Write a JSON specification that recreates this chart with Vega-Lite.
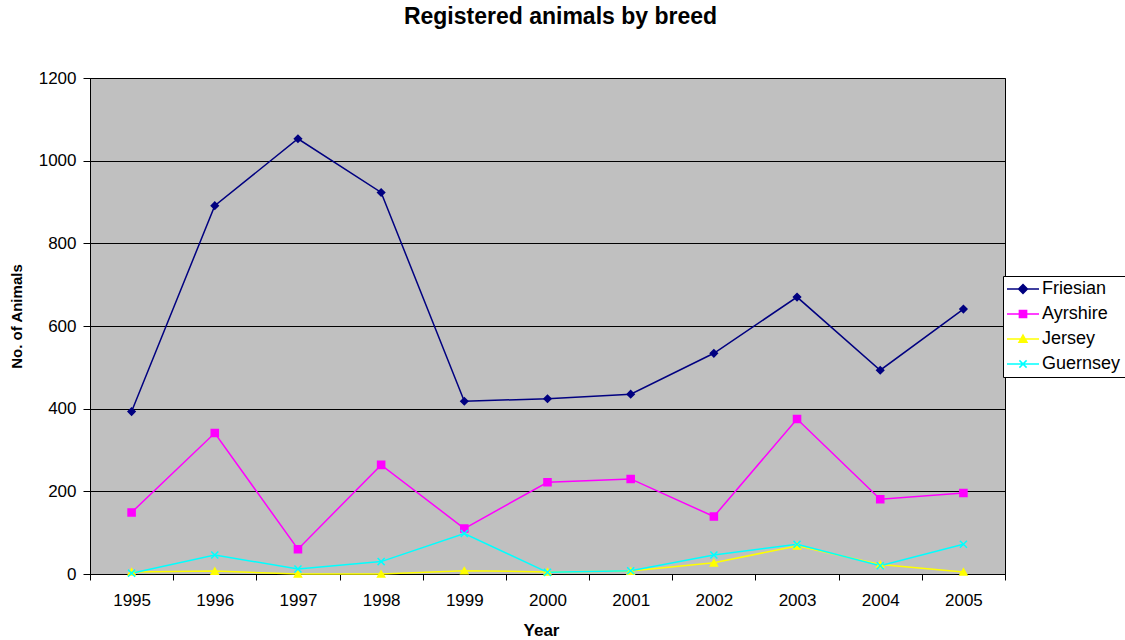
{
  "$schema": "https://vega.github.io/schema/vega-lite/v6.json",
  "width": 915,
  "height": 496,
  "autosize": {"type": "none"},
  "padding": {"left": 90, "top": 78, "right": 120, "bottom": 66},
  "background": "white",
  "title": {"text": "Registered animals by breed", "fontSize": 23, "font": "Liberation Sans", "fontWeight": "bold", "color": "black", "offset": 40, "dx": 13},
  "config": {
    "font": "Liberation Sans",
    "view": {"fill": "#C0C0C0", "stroke": "black", "strokeWidth": 1},
    "legend": {
      "title": null, "orient": "none", "legendX": 913, "legendY": 198,
      "labelFontSize": 18, "labelColor": "black", "fillColor": "white", "strokeColor": "black",
      "padding": 4, "rowPadding": 7, "symbolSize": 64, "symbolStrokeWidth": 1.5, "symbolOpacity": 1,
      "symbolOffset": 7, "labelOffset": 10
    }
  },
  "data": {"values": [
    {"year": "1995", "breed": "Friesian", "count": 393},
    {"year": "1996", "breed": "Friesian", "count": 891},
    {"year": "1997", "breed": "Friesian", "count": 1053},
    {"year": "1998", "breed": "Friesian", "count": 923},
    {"year": "1999", "breed": "Friesian", "count": 418},
    {"year": "2000", "breed": "Friesian", "count": 424},
    {"year": "2001", "breed": "Friesian", "count": 435},
    {"year": "2002", "breed": "Friesian", "count": 534},
    {"year": "2003", "breed": "Friesian", "count": 670},
    {"year": "2004", "breed": "Friesian", "count": 493},
    {"year": "2005", "breed": "Friesian", "count": 641},
    {"year": "1995", "breed": "Ayrshire", "count": 149},
    {"year": "1996", "breed": "Ayrshire", "count": 341},
    {"year": "1997", "breed": "Ayrshire", "count": 60},
    {"year": "1998", "breed": "Ayrshire", "count": 264},
    {"year": "1999", "breed": "Ayrshire", "count": 110},
    {"year": "2000", "breed": "Ayrshire", "count": 222},
    {"year": "2001", "breed": "Ayrshire", "count": 230},
    {"year": "2002", "breed": "Ayrshire", "count": 139},
    {"year": "2003", "breed": "Ayrshire", "count": 375},
    {"year": "2004", "breed": "Ayrshire", "count": 181},
    {"year": "2005", "breed": "Ayrshire", "count": 196},
    {"year": "1995", "breed": "Jersey", "count": 5},
    {"year": "1996", "breed": "Jersey", "count": 7},
    {"year": "1997", "breed": "Jersey", "count": 0},
    {"year": "1998", "breed": "Jersey", "count": 0},
    {"year": "1999", "breed": "Jersey", "count": 8},
    {"year": "2000", "breed": "Jersey", "count": 5},
    {"year": "2001", "breed": "Jersey", "count": 7},
    {"year": "2002", "breed": "Jersey", "count": 27},
    {"year": "2003", "breed": "Jersey", "count": 68},
    {"year": "2004", "breed": "Jersey", "count": 23},
    {"year": "2005", "breed": "Jersey", "count": 5},
    {"year": "1995", "breed": "Guernsey", "count": 2},
    {"year": "1996", "breed": "Guernsey", "count": 46},
    {"year": "1997", "breed": "Guernsey", "count": 12},
    {"year": "1998", "breed": "Guernsey", "count": 30},
    {"year": "1999", "breed": "Guernsey", "count": 98},
    {"year": "2000", "breed": "Guernsey", "count": 4},
    {"year": "2001", "breed": "Guernsey", "count": 8},
    {"year": "2002", "breed": "Guernsey", "count": 46},
    {"year": "2003", "breed": "Guernsey", "count": 72},
    {"year": "2004", "breed": "Guernsey", "count": 20},
    {"year": "2005", "breed": "Guernsey", "count": 72}
  ]},
  "encoding": {
    "x": {
      "field": "year", "type": "ordinal",
      "scale": {"type": "band", "paddingInner": 0, "paddingOuter": 0},
      "axis": {
        "title": "Year", "titleFontSize": 17, "titleFontWeight": "bold", "titleColor": "black", "titlePadding": 14, "titleX": 451,
        "labelAngle": 0, "labelFontSize": 17, "labelColor": "black", "labelPadding": 12,
        "tickBand": "extent", "tickColor": "black", "tickSize": 6, "domainColor": "black", "grid": false
      }
    },
    "y": {
      "field": "count", "type": "quantitative",
      "scale": {"domain": [0, 1200], "nice": false},
      "axis": {
        "title": "No. of Animals", "titleFontSize": 15, "titleFontWeight": "bold", "titleColor": "black", "titlePadding": 14, "titleY": 238,
        "values": [0, 200, 400, 600, 800, 1000, 1200], "format": "d",
        "labelFontSize": 17, "labelColor": "black", "labelPadding": 7,
        "tickColor": "black", "tickSize": 7, "domainColor": "black",
        "grid": true, "gridColor": "black", "gridOpacity": 1, "gridWidth": 1
      }
    }
  },
  "layer": [
    {
      "mark": {"type": "line", "strokeWidth": 1.5},
      "encoding": {
        "color": {
          "field": "breed", "type": "nominal",
          "scale": {"domain": ["Friesian", "Ayrshire", "Jersey", "Guernsey"], "range": ["#000080", "#FF00FF", "#FFFF00", "#00FFFF"]},
          "legend": null
        }
      }
    },
    {
      "mark": {"type": "point", "filled": true, "opacity": 1, "strokeWidth": 1.5},
      "encoding": {
        "color": {
          "field": "breed", "type": "nominal",
          "scale": {"domain": ["Friesian", "Ayrshire", "Jersey", "Guernsey"], "range": ["#000080", "#FF00FF", "#FFFF00", "#00FFFF"]},
          "legend": null
        },
        "shape": {
          "field": "breed", "type": "nominal",
          "scale": {"domain": ["Friesian", "Ayrshire", "Jersey", "Guernsey"], "range": ["diamond", "square", "triangle-up", "M-1,-1L1,1M1,-1L-1,1"]},
          "legend": null
        },
        "stroke": {
          "field": "breed", "type": "nominal",
          "scale": {"domain": ["Friesian", "Ayrshire", "Jersey", "Guernsey"], "range": ["#000080", "#FF00FF", "#FFFF00", "#00FFFF"]},
          "legend": null
        },
        "size": {"value": 50}
      }
    },
    {
      "mark": {"type": "point", "filled": true, "strokeWidth": 1.5},
      "encoding": {
        "size": {"value": 0},
        "color": {
          "field": "breed", "type": "nominal",
          "scale": {"domain": ["Friesian", "Ayrshire", "Jersey", "Guernsey"], "range": ["#000080", "#FF00FF", "#FFFF00", "#00FFFF"]}
        },
        "stroke": {
          "field": "breed", "type": "nominal",
          "scale": {"domain": ["Friesian", "Ayrshire", "Jersey", "Guernsey"], "range": ["#000080", "#FF00FF", "#FFFF00", "#00FFFF"]}
        },
        "shape": {
          "field": "breed", "type": "nominal",
          "scale": {"domain": ["Friesian", "Ayrshire", "Jersey", "Guernsey"], "range": [
            "M-4,0H4M0,-1.1L1.1,0L0,1.1L-1.1,0Z",
            "M-4,0H4M-0.9,-0.9H0.9V0.9H-0.9Z",
            "M-4,0H4M0,-1L1,0.8H-1Z",
            "M-4,0H4M-0.9,-0.9L0.9,0.9M0.9,-0.9L-0.9,0.9"
          ]}
        }
      }
    }
  ],
  "resolve": {"scale": {"color": "independent", "shape": "independent", "stroke": "independent"}}
}
